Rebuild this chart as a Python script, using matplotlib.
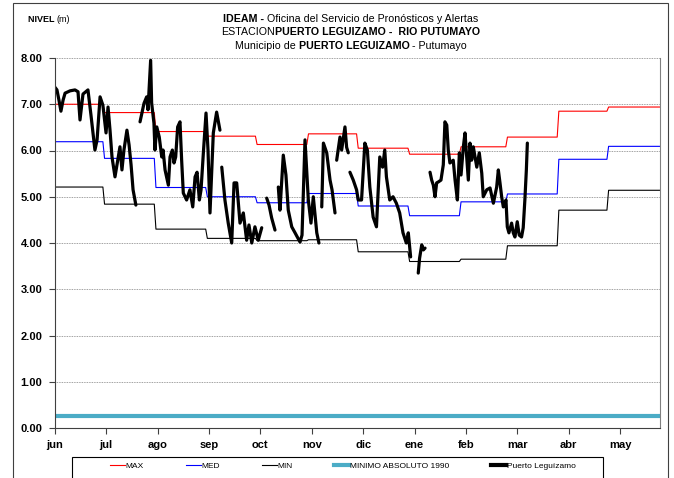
import numpy as np
import matplotlib
matplotlib.use("Agg")
import matplotlib.pyplot as plt
from matplotlib import font_manager
from matplotlib.lines import Line2D
from matplotlib.patches import Rectangle

# pick a narrow sans face when it is installed
names = {f.name for f in font_manager.fontManager.ttflist}
if "Liberation Sans Narrow" in names:
    FONT = ["Liberation Sans Narrow", "DejaVu Sans"]
    FS, TITLE_FS = 9, 9
else:
    FONT = ["Liberation Sans", "DejaVu Sans"]
    FS, TITLE_FS = 8, 7.7
plt.rcParams["font.family"] = FONT

months = ["jun", "jul", "ago", "sep", "oct", "nov", "dic", "ene", "feb", "mar", "abr", "may"]
month_days = [30, 31, 31, 30, 31, 30, 31, 31, 28, 31, 30, 31]

level_max = [7.00, 6.82, 6.41, 6.31, 6.13, 6.36, 6.05, 5.92, 6.08, 6.29, 6.85, 6.94]
level_med = [6.19, 5.83, 5.20, 5.00, 4.87, 5.07, 4.80, 4.59, 4.89, 5.06, 5.81, 6.09]
level_min = [5.21, 4.84, 4.30, 4.10, 4.05, 4.07, 3.81, 3.60, 3.65, 3.94, 4.71, 5.14]
minimo_1990 = 0.27

# daily readings, days counted from 1 june (nan = no data)
obs_day = [
    0, 1.3, 2.5, 3.7, 5, 6.2, 9.2, 12.2, 14, 15.2, 17, 20, 21.8, 24.2, 25.5, 27.3,
    29, 30.9, 32.1, 33.3, 34.5, 36.3, 37.5, 39.3, 40.5, 41.7, 43.5, 44.8, 46, 47.2, 48.9,
    np.nan,
    51.4, 53.8, 55.4, 56.2, 57.8, 58.4, 59.8, 60.4, 61.5, 63, 64.5, 65.3, 66.5, 68.5,
    69.5, 70.9, 71.9, 72.9, 74.1, 75.5, 76.5, 77.5, 79.5, 81.5, 83.2, 84.6, 85.8, 87.2,
    88.2, 89.6, 91.2, 92.4, 93.6, 95.6, 97.6, 99.6,
    np.nan,
    100.7, 102.6, 104.6, 106.7, 108.1, 109.7, 111.7, 113.7, 115.7, 117.1, 118.8, 120.7,
    122.7, 124.8,
    np.nan,
    127.8, 129.2, 130.8, 132.8,
    np.nan,
    134.8, 135.8, 137.8, 139.4, 140.8, 142.9, 144.9, 147.9, 149.1, 150.9, 152.9, 154.5,
    155.9, 158, 159.3,
    np.nan,
    161, 162, 164, 166, 167.2, 169,
    np.nan,
    170, 172, 173, 175, 176, 177,
    np.nan,
    178, 180, 182, 183, 185, 187, 188.5, 190, 192, 194, 196, 197.7, 199, 200, 202, 204,
    206, 208, 210, 212, 213.2, 214.6,
    np.nan,
    219.2, 220, 221.3, 222.3, 223.3,
    np.nan,
    226.3, 227.3, 228.3, 229.3, 230.3, 231.3, 232.9, 234.3, 235.3, 236.4, 237.3, 238.3,
    240.3, 241.4, 242.8, 244, 245, 246.4, 247.4, 248.4, 249.4, 250.4, 251.4, 252.4,
    254.5, 256, 257.5, 258.4, 260.5, 262.5, 264.5, 266.5, 267.5, 268.5, 269.5, 270.5,
    272.1, 272.9, 273.9, 275.5, 276.5, 277.5, 278.9, 280.1, 281.5, 282.5, 283.5, 284.4, 285,
]
obs_level = [
    7.37, 7.31, 7.09, 6.85, 7.09, 7.24, 7.29, 7.31, 7.27, 6.66, 7.22, 7.31, 6.77, 6.01, 6.23, 7.16,
    6.98, 6.38, 6.94, 6.44, 5.86, 5.43, 5.69, 6.08, 5.58, 6.01, 6.44, 6.12, 5.69, 5.15, 4.82,
    np.nan,
    6.62, 7.02, 7.16, 6.88, 7.95, 7.03, 6.59, 6.01, 6.51, 6.29, 5.86, 6.01, 5.58, 5.25,
    5.86, 6.01, 5.73, 5.86, 6.51, 6.62, 5.79, 5.08, 4.93, 5.15, 4.78, 5.43, 5.53, 4.93,
    5.15, 5.95, 6.81, 6.01, 4.65, 6.38, 6.83, 6.44,
    np.nan,
    5.64, 4.93, 4.43, 4.00, 5.30, 5.30, 4.43, 4.65, 4.06, 4.39, 4.00, 4.35,
    4.06, 4.33,
    np.nan,
    4.97, 4.82, 4.54, 4.28,
    np.nan,
    5.21, 4.71, 5.90, 5.47, 4.71, 4.35, 4.22, 4.02, 4.17, 6.23, 4.93, 4.43,
    5.00, 4.22, 4.00,
    np.nan,
    4.78, 6.16, 5.95, 5.36, 5.15, 4.65,
    np.nan,
    5.79, 6.29, 6.01, 6.51, 6.07, 5.95,
    np.nan,
    5.53, 5.36, 5.15, 4.93, 4.93, 6.16, 6.01, 5.21, 4.56, 4.35, 5.86, 5.64, 6.01, 5.43, 4.93, 5.00,
    4.86, 4.65, 4.22, 4.00, 4.22, 3.70,
    np.nan,
    3.35, 3.67, 3.96, 3.85, 3.89,
    np.nan,
    5.53, 5.36, 5.25, 5.00, 5.30, 5.32, 5.36, 5.69, 6.62, 6.55, 6.01, 5.73,
    5.79, 5.36, 4.93, 5.95, 5.47, 6.08, 6.38, 5.86, 5.36, 6.16, 5.79, 6.08,
    5.64, 5.95, 5.51, 5.00, 5.15, 5.19, 4.86, 5.21, 5.58, 5.30, 5.00, 4.78,
    4.93, 4.35, 4.22, 4.43, 4.22, 4.13, 4.46, 4.17, 4.13, 4.33, 4.93, 5.58, 6.16,
]


def monthly_to_daily(values):
    daily = np.repeat(values, month_days)
    return np.append(daily, daily[-1])


def mixed_text(fig, x, y, parts, size, ha="center"):
    """Write a line made of pieces with different weights."""
    renderer = fig.canvas.get_renderer()
    items = []
    for s, w in parts:
        t = fig.text(0, y, s, fontsize=size, fontweight=w, va="center", ha="left")
        items.append((t, t.get_window_extent(renderer).width))
    total = sum(w for _, w in items)
    W = fig.bbox.width
    start = x * W - (total / 2 if ha == "center" else 0)
    for t, w in items:
        t.set_x(start / W)
        start += w


fig = plt.figure(figsize=(6.74, 4.78), dpi=100)
ax = fig.add_axes([54.8 / 674, 1 - 428 / 478, (660 - 54.8) / 674, 370 / 478])

days = np.arange(366)
ax.plot(days, monthly_to_daily(level_max), color="#ff0000", lw=0.8)
ax.plot(days, monthly_to_daily(level_med), color="#0000ff", lw=0.8)
ax.plot(days, monthly_to_daily(level_min), color="black", lw=0.8)
ax.axhline(minimo_1990, color="#4bacc6", lw=3)
ax.plot(obs_day, obs_level, color="black", lw=2.3, solid_joinstyle="round",
        solid_capstyle="round")

ax.set_xlim(0, 365)
ax.set_ylim(0, 8)
ax.set_xticks(np.arange(12) * 31)
ax.set_xticklabels(months)
ax.set_yticks(np.arange(0, 9))
ax.set_yticklabels([f"{v:.2f}" for v in range(9)])
for lab in ax.get_xticklabels() + ax.get_yticklabels():
    lab.set_fontweight("bold")
ax.tick_params(axis="both", labelsize=FS, length=4, color="#404040", direction="out")
ax.tick_params(axis="x", pad=5)
ax.tick_params(axis="y", pad=5)
ax.grid(axis="y", color="#808080", ls=(0, (1, 1)), lw=0.6)
ax.set_axisbelow(True)
for side in ["left", "bottom"]:
    ax.spines[side].set_color("#404040")
ax.spines["top"].set_visible(False)
ax.spines["right"].set_color("#808080")

# outer frame of the chart and the legend box
fig.patches.append(Rectangle((13 / 674, -0.05), (668 - 13) / 674, 1.05 - 3 / 478,
                             transform=fig.transFigure, fill=False,
                             edgecolor="#404040", lw=0.8))
fig.patches.append(Rectangle((72 / 674, -0.05), (603 - 72) / 674, 0.05 + 1 - 457 / 478,
                             transform=fig.transFigure, fill=False,
                             edgecolor="black", lw=0.8))

fig.canvas.draw()
cx = 351 / 674
mixed_text(fig, cx, 1 - 19 / 478,
           [("IDEAM - ", "bold"), ("Oficina del Servicio de Pronósticos y Alertas", "normal")], TITLE_FS)
mixed_text(fig, cx, 1 - 32 / 478,
           [("ESTACION", "normal"), ("PUERTO LEGUIZAMO -  RIO PUTUMAYO", "bold")], TITLE_FS)
mixed_text(fig, cx, 1 - 46 / 478,
           [("Municipio de ", "normal"), ("PUERTO LEGUIZAMO", "bold"), (" - Putumayo", "normal")], TITLE_FS)
mixed_text(fig, 28 / 674, 1 - 20 / 478, [("NIVEL ", "bold"), ("(m)", "normal")], FS - 1.5, ha="left")

handles = [
    Line2D([], [], color="#ff0000", lw=0.8),
    Line2D([], [], color="#0000ff", lw=0.8),
    Line2D([], [], color="black", lw=0.8),
    Line2D([], [], color="#4bacc6", lw=3),
    Line2D([], [], color="black", lw=3),
]
labels = ["MAX", "MED", "MIN", "MINIMO ABSOLUTO 1990", "Puerto Leguízamo"]
leg = fig.legend(handles, labels, loc="center left", ncol=5,
                 bbox_to_anchor=(110 / 674, 1 - 466 / 478), fontsize=FS - 2,
                 frameon=False, handlelength=1.8, handletextpad=0.1,
                 columnspacing=5.0, borderpad=0, borderaxespad=0)

fig.savefig("out.png", dpi=100)
